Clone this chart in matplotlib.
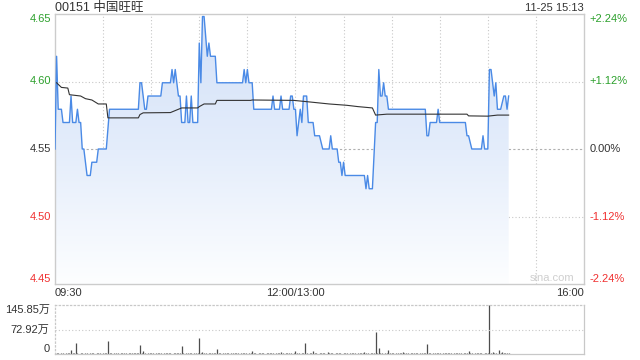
import numpy as np
import matplotlib
matplotlib.use('Agg')
import matplotlib.pyplot as plt
from matplotlib.colors import LinearSegmentedColormap
from matplotlib.patches import Polygon

plt.rcParams['font.family'] = ['Liberation Sans', 'Noto Sans CJK SC', 'DejaVu Sans']

title = '00151 中国旺旺'
stamp = '11-25 15:13'
prev_close = 4.55

# minutes since 09:30 (lunch break removed, 150 = 12:00/13:00)
price_t = [0, 1, 2, 4, 5, 9, 10, 11, 13, 14, 15, 16, 17, 18, 20, 22, 23, 26, 27, 32,
           34, 52, 53, 54, 56, 57, 58, 66, 67, 72, 73, 74, 75, 77, 78, 79, 81, 82, 83, 84,
           85, 86, 89, 90, 91, 92, 93, 95, 96, 97, 100, 101, 117, 118, 119, 120, 121, 123, 124, 135,
           136, 137, 140, 141, 142, 146, 147, 148, 149, 150, 151, 153, 154, 155, 157, 158, 161, 162, 165, 167,
           171, 172, 173, 176, 177, 178, 179, 180, 181, 193, 194, 195, 196, 198, 200, 201, 202, 203, 204, 205,
           206, 207, 208, 231, 232, 233, 234, 238, 239, 240, 256, 257, 258, 260, 266, 267, 268, 270, 271, 272,
           274, 275, 276, 278, 280, 281, 282, 283]
price_v = [4.55, 4.62, 4.58, 4.58, 4.57, 4.57, 4.59, 4.57, 4.57, 4.58, 4.57, 4.57, 4.55, 4.55, 4.53, 4.53, 4.54, 4.54, 4.55, 4.55,
           4.58, 4.58, 4.60, 4.60, 4.58, 4.58, 4.59, 4.59, 4.60, 4.60, 4.61, 4.60, 4.61, 4.59, 4.59, 4.57, 4.57, 4.59, 4.57, 4.57,
           4.59, 4.57, 4.57, 4.63, 4.60, 4.65, 4.65, 4.62, 4.63, 4.62, 4.62, 4.60, 4.60, 4.61, 4.60, 4.61, 4.60, 4.60, 4.58, 4.58,
           4.59, 4.58, 4.58, 4.59, 4.58, 4.58, 4.59, 4.59, 4.58, 4.58, 4.56, 4.58, 4.57, 4.59, 4.59, 4.57, 4.57, 4.56, 4.56, 4.55,
           4.55, 4.56, 4.55, 4.55, 4.54, 4.54, 4.53, 4.54, 4.53, 4.53, 4.52, 4.53, 4.52, 4.52, 4.57, 4.57, 4.61, 4.59, 4.59, 4.60,
           4.59, 4.59, 4.58, 4.58, 4.56, 4.56, 4.57, 4.57, 4.58, 4.57, 4.57, 4.56, 4.56, 4.55, 4.55, 4.56, 4.55, 4.55, 4.61, 4.61,
           4.59, 4.60, 4.58, 4.58, 4.59, 4.59, 4.58, 4.59]

avg_t = [1, 4, 8, 9, 16, 19, 23, 27, 32, 33, 52, 53, 55, 72, 75, 79, 89, 90, 93, 100,
         101, 122, 123, 149, 159, 171, 182, 189, 198, 200, 207, 257, 258, 270, 276, 283]
avg_v = [4.600, 4.5965, 4.596, 4.591, 4.590, 4.588, 4.587, 4.584, 4.584, 4.5735, 4.5735, 4.576, 4.5773, 4.5775, 4.579, 4.581, 4.581, 4.582, 4.584, 4.584,
         4.5867, 4.5867, 4.587, 4.5867, 4.5855, 4.584, 4.583, 4.582, 4.581, 4.5756, 4.5763, 4.5763, 4.575, 4.5748, 4.5756, 4.5756]

# volume per minute, in 万
volume = [3, 2, 2, 1, 2, 2, 1, 2, 2, 3, 13, 2, 2, 34, 2, 1, 2, 2, 1, 2,
          2, 1, 2, 2, 2, 1, 2, 2, 2, 1, 2, 2, 3, 39, 2, 2, 1, 2, 2, 2,
          1, 2, 2, 2, 2, 1, 2, 2, 2, 3, 2, 2, 2, 27, 2, 8, 2, 1, 2, 2,
          2, 2, 1, 2, 2, 2, 2, 1, 2, 3, 2, 2, 2, 1, 2, 2, 3, 2, 2, 24,
          2, 1, 2, 2, 2, 2, 1, 2, 2, 2, 49, 2, 5, 2, 2, 1, 2, 2, 2, 2,
          2, 16, 2, 2, 1, 2, 2, 2, 2, 1, 2, 2, 2, 2, 2, 1, 2, 2, 2, 2,
          1, 2, 2, 8, 2, 2, 1, 2, 2, 2, 2, 1, 2, 2, 2, 2, 2, 1, 2, 2,
          2, 5, 2, 1, 2, 2, 2, 2, 1, 2, 8, 2, 2, 1, 2, 2, 32, 2, 1, 2,
          2, 8, 2, 2, 1, 2, 2, 2, 2, 1, 5, 2, 2, 2, 1, 2, 2, 2, 2, 1,
          2, 2, 2, 1, 2, 2, 2, 2, 1, 2, 2, 2, 2, 5, 2, 2, 1, 2, 2, 2,
          66, 2, 17, 2, 2, 1, 2, 2, 12, 2, 2, 2, 1, 2, 2, 2, 2, 7, 2, 2,
          2, 1, 2, 2, 2, 2, 2, 1, 2, 2, 2, 2, 29, 2, 2, 1, 2, 2, 2, 2,
          2, 1, 2, 2, 2, 4, 2, 2, 1, 2, 2, 2, 2, 2, 1, 2, 2, 2, 8, 2,
          2, 1, 2, 2, 2, 2, 2, 1, 2, 2, 2, 145.85, 2, 5, 2, 2, 1, 12, 2, 6,
          2, 4, 2, 2]
vol_max = 145.85

pct_levels = [2.24, 1.12, 0.0, -1.12, -2.24]
time_ticks = [0, 150, 330]
time_labels = ['09:30', '12:00/13:00', '16:00']
vol_ticks = [145.85, 72.92, 0]
vol_labels = ['145.85万', '72.92万', '0']

W, H = 640, 360
fig = plt.figure(figsize=(6.4, 3.6), dpi=100)


def box(l, t, r, b):
    return [l / W, 1 - b / H, (r - l) / W, (b - t) / H]


ax = fig.add_axes(box(55, 14, 584, 284))
axv = fig.add_axes(box(55, 305, 584, 354))

lo = prev_close * (1 - 0.0224)
hi = prev_close * (1 + 0.0224)
green, red, dark = '#2ca02c', '#f03030', '#333333'

# gradient fill under price line
t = np.array(price_t, dtype=float)
p = np.array(price_v)
verts = np.column_stack([np.r_[t, t[::-1]], np.r_[p, np.full(len(t), lo)]])
patch = Polygon(verts, closed=True, facecolor='none', edgecolor='none')
ax.add_patch(patch)
cmap = LinearSegmentedColormap.from_list('fade', ['#fdfeff', '#e4edfb', '#d3e1f8'])
grad = np.linspace(0, 1, 256).reshape(-1, 1)
im = ax.imshow(grad, extent=[0, t.max(), lo, p.max()], origin='lower',
               aspect='auto', cmap=cmap, zorder=1)
im.set_clip_path(patch)

ax.plot(price_t, price_v, color='#4a8ae6', lw=1.0, zorder=3)
ax.plot(avg_t, avg_v, color='#333333', lw=0.8, zorder=4)

# grid
for m in range(30, 330, 30):
    ax.axvline(m, color='#c8c8c8', lw=0.8, ls=(0, (1, 2)), zorder=0)
for pc in pct_levels[1:-1]:
    lvl = prev_close * (1 + pc / 100)
    if pc == 0:
        ax.axhline(lvl, color='#b0b0b0', lw=0.8, ls=(0, (2, 2)), zorder=0)
    else:
        ax.axhline(lvl, color='#c8c8c8', lw=0.8, ls=(0, (1, 2)), zorder=0)

ax.set_xlim(0, 330)
ax.set_ylim(lo, hi)
ax.set_xticks([])
ax.set_yticks([])
for s in ax.spines.values():
    s.set_color('#cccccc')
    s.set_linewidth(1)

# price / percent labels
ytr = ax.get_yaxis_transform()
for i, pc in enumerate(pct_levels):
    lvl = prev_close * (1 + pc / 100)
    col = green if pc > 0 else (red if pc < 0 else dark)
    va = 'top' if i == 0 else ('bottom' if i == len(pct_levels) - 1 else 'center')
    ax.text(-0.008, lvl, f'{lvl:.2f}', transform=ytr, ha='right', va=va,
            color=col, fontsize=8)
    lab = f'{pc:+.2f}%' if pc != 0 else '0.00%'
    ax.text(1.011, lvl, lab, transform=ytr, ha='left', va=va,
            color=col, fontsize=8)

xtr = ax.get_xaxis_transform()
for m, lab, ha in zip(time_ticks, time_labels, ['left', 'center', 'right']):
    ax.text(m, -0.033, lab, transform=xtr, ha=ha, va='center', color=dark, fontsize=8)

ax.text(0.94, 0.005, 'sina.com', transform=ax.transAxes, ha='center', va='bottom',
        fontsize=8, color='#cfcfcf')

fig.text(55 / W, 1 - 8 / H, title, ha='left', va='center', fontsize=9, color=dark)
fig.text(584 / W, 1 - 8 / H, stamp, ha='right', va='center', fontsize=8, color=dark)

# volume
axv.vlines(np.arange(len(volume)), 0, volume, color='#4d4d4d', lw=0.9)
axv.axhline(vol_ticks[1], color='#c8c8c8', lw=0.8, ls=(0, (1, 2)))
axv.set_xlim(0, 330)
axv.set_ylim(0, vol_max)
axv.set_xticks([])
axv.set_yticks([])
axv.spines['top'].set_linestyle((0, (1, 2)))
axv.spines['left'].set_linestyle((0, (1, 2)))
for s in axv.spines.values():
    s.set_color('#c8c8c8')
    s.set_linewidth(0.9)
vtr = axv.get_yaxis_transform()
for v, lab, va in zip(vol_ticks, vol_labels, ['top', 'center', 'bottom']):
    axv.text(-0.01, v, lab, transform=vtr, ha='right', va=va, color=dark, fontsize=8)

fig.savefig('out.png', dpi=100)
